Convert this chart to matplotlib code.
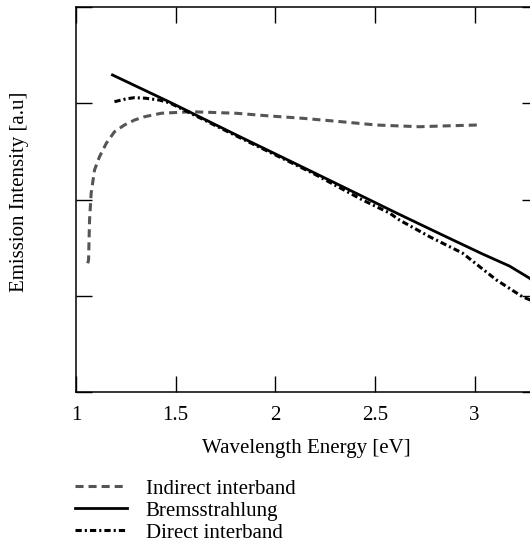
import matplotlib
matplotlib.use("Agg")
import matplotlib.pyplot as plt

plt.rcParams['font.family'] = ['Liberation Serif', 'DejaVu Serif']
plt.rcParams['lines.scale_dashes'] = False

# Data
brems_x = [1.183, 1.469, 1.805, 2.187, 2.372, 2.608, 2.839, 3.040, 3.175, 3.275, 3.31]
brems_y = [3.294, 3.013, 2.670, 2.286, 2.099, 1.860, 1.631, 1.434, 1.309, 1.184, 1.12]

direct_x = [1.193, 1.25, 1.293, 1.35, 1.419, 1.469, 1.805, 2.187, 2.438, 2.573, 2.623, 2.774, 2.939, 3.11, 3.24, 3.31]
direct_y = [3.016, 3.045, 3.058, 3.052, 3.033, 3.005, 2.660, 2.275, 1.995, 1.860, 1.787, 1.614, 1.444, 1.164, 0.99, 0.93]

indirect_x = [1.059, 1.063, 1.068, 1.076, 1.093, 1.118, 1.152, 1.193, 1.243, 1.294, 1.344, 1.428,
              1.578, 1.804, 1.971, 2.136, 2.322, 2.506, 2.724, 2.839, 3.015]
indirect_y = [1.337, 1.371, 1.787, 2.064, 2.307, 2.445, 2.584, 2.704, 2.774, 2.826, 2.860, 2.896,
              2.912, 2.896, 2.868, 2.844, 2.810, 2.774, 2.756, 2.764, 2.774]

xticks = [1, 1.5, 2, 2.5, 3]
xtick_labels = ['1', '1.5', '2', '2.5', '3']
yticks = [0, 1, 2, 3, 4]

fig = plt.figure(figsize=(5.30, 5.46), dpi=100)
ax = fig.add_axes([76 / 530, 1 - 392 / 546, 461.5 / 530, 385 / 546])

l1, = ax.plot(indirect_x, indirect_y, color='#555555', lw=2.2, dashes=(5.8, 3.6),
              label='Indirect interband')
l2, = ax.plot(brems_x, brems_y, color='black', lw=2.0, label='Bremsstrahlung')
l3, = ax.plot(direct_x, direct_y, color='black', lw=2.2, dashes=(4.5, 2.2, 1.5, 2.2),
              label='Direct interband')

ax.set_xlim(1.0, 3.316)
ax.set_ylim(0, 4)
ax.set_xticks(xticks)
ax.set_xticklabels(xtick_labels)
ax.set_yticks(yticks)
ax.set_yticklabels([])
ax.tick_params(direction='in', length=11.5, width=1.0, top=True, right=True,
               labelsize=15, pad=10, colors='black')
for s in ax.spines.values():
    s.set_linewidth(1.1)

ax.set_xlabel('Wavelength Energy [eV]', fontsize=15, labelpad=10)
ax.set_ylabel('Emission Intensity [a.u]', fontsize=15)
ax.yaxis.set_label_coords(-0.102, 0.52)

fig.legend(handles=[l1, l2, l3], loc='upper left', bbox_to_anchor=(75 / 530, 1 - 479 / 546),
           frameon=False, fontsize=15, handlelength=2.5, handletextpad=0.9,
           labelspacing=0.12, borderpad=0, borderaxespad=0)

fig.savefig('out.png', dpi=100)
